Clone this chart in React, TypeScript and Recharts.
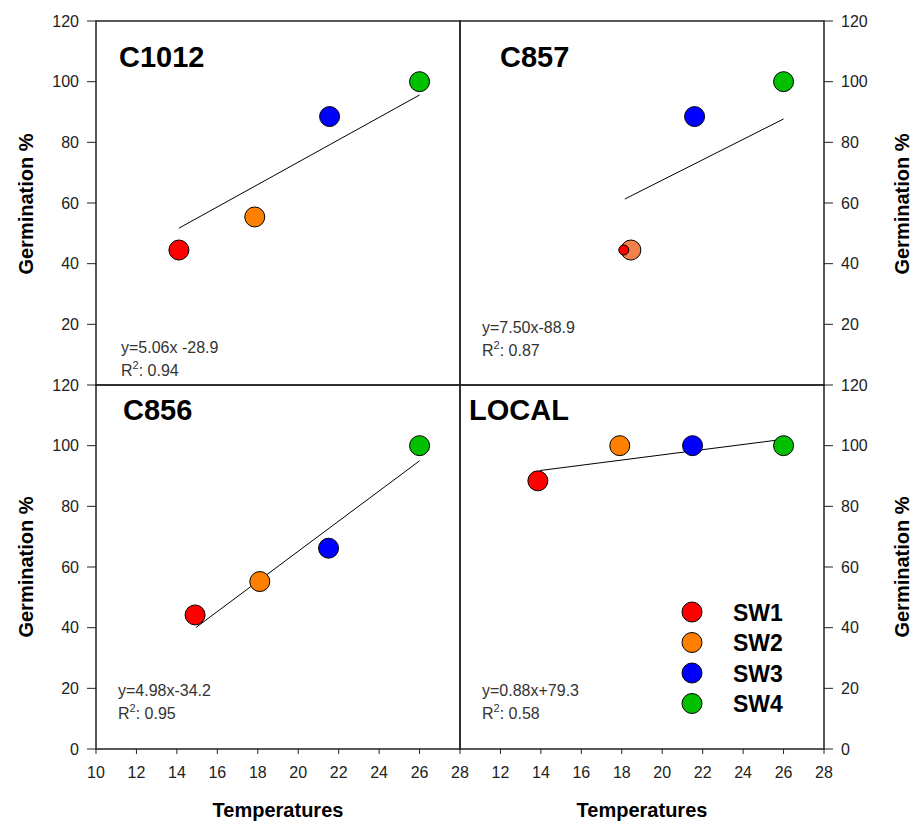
import { ScatterChart, Scatter, XAxis, YAxis, ReferenceArea, Legend } from "recharts"

const W = 913
const H = 821
const FONT = "'Liberation Sans', Arial, sans-serif"

const seriesNames = ["SW1", "SW2", "SW3", "SW4"]
const seriesColors = ["#FF0000", "#FF8000", "#0000FF", "#00C000"]

// C1012
const c1012Temp = [14.1, 17.85, 21.55, 26.0]
const c1012Germ = [44.5, 55.4, 88.5, 100]
const c1012TrendTemp = [14.1, 26.0]
const c1012TrendGerm = [51.7, 95.6]

// C857
const c857Temp = [18.1, 18.45, 21.6, 26.0]
const c857Germ = [44.5, 44.5, 88.5, 100]
const c857TrendTemp = [18.15, 26.0]
const c857TrendGerm = [61.3, 87.7]
const c857Colors = ["#FF0000", "#F4804A", "#0000FF", "#00C000"]

// C856
const c856Temp = [14.9, 18.1, 21.5, 26.0]
const c856Germ = [44.2, 55.2, 66.2, 100]
const c856TrendTemp = [14.95, 26.0]
const c856TrendGerm = [40.1, 95.0]

// LOCAL
const localTemp = [13.85, 17.9, 21.5, 26.0]
const localGerm = [88.4, 100, 100, 100]
const localTrendTemp = [13.95, 26.0]
const localTrendGerm = [91.8, 102.1]

const xTicks = [10, 12, 14, 16, 18, 20, 22, 24, 26, 28]
const xTicksRight = [12, 14, 16, 18, 20, 22, 24, 26, 28]
const yTicksTop = [20, 40, 60, 80, 100, 120]
const yTicksBottom = [0, 20, 40, 60, 80, 100, 120]

const panels = [
  {
    name: "C1012", side: "L", row: "T",
    temp: c1012Temp, germ: c1012Germ, trendTemp: c1012TrendTemp, trendGerm: c1012TrendGerm,
    colors: seriesColors, radii: [10, 10, 10, 10],
    eq: "y=5.06x -28.9", r2: "0.94",
    titleX: 119, titleY: 67, eqX: 121, eqY: 353
  },
  {
    name: "C857", side: "R", row: "T",
    temp: c857Temp, germ: c857Germ, trendTemp: c857TrendTemp, trendGerm: c857TrendGerm,
    colors: c857Colors, radii: [5, 10, 10, 10],
    eq: "y=7.50x-88.9", r2: "0.87",
    titleX: 500, titleY: 67, eqX: 482, eqY: 333
  },
  {
    name: "C856", side: "L", row: "B",
    temp: c856Temp, germ: c856Germ, trendTemp: c856TrendTemp, trendGerm: c856TrendGerm,
    colors: seriesColors, radii: [10, 10, 10, 10],
    eq: "y=4.98x-34.2", r2: "0.95",
    titleX: 123, titleY: 420, eqX: 118, eqY: 696
  },
  {
    name: "LOCAL", side: "R", row: "B",
    temp: localTemp, germ: localGerm, trendTemp: localTrendTemp, trendGerm: localTrendGerm,
    colors: seriesColors, radii: [10, 10, 10, 10],
    eq: "y=0.88x+79.3", r2: "0.58",
    titleX: 469, titleY: 420, eqX: 482, eqY: 696,
    legend: true
  }
]

function Notes({ p }: any) {
  return (
    <g fontFamily={FONT}>
      <text x={p.titleX} y={p.titleY} fontSize={29} fontWeight="bold" fill="#000">{p.name}</text>
      <text x={p.eqX} y={p.eqY} fontSize={16} fill="#333">{p.eq}</text>
      <text x={p.eqX} y={p.eqY + 23} fontSize={16} fill="#333">
        R<tspan dy={-7} fontSize={11}>2</tspan><tspan dy={7}>: {p.r2}</tspan>
      </text>
    </g>
  )
}

function GermLabel({ lx, ly }: any) {
  return (
    <text x={lx} y={ly} transform={`rotate(-90, ${lx}, ${ly})`} textAnchor="middle"
      fontFamily={FONT} fontSize={20} fontWeight="bold" fill="#000">
      Germination %
    </text>
  )
}

function TempLabel({ lx }: any) {
  return (
    <text x={lx} y={817} textAnchor="middle" fontFamily={FONT} fontSize={20} fontWeight="bold" fill="#000">
      Temperatures
    </text>
  )
}

function LegendBox() {
  return (
    <svg width={140} height={130}>
      {seriesNames.map((n, i) => (
        <g key={n}>
          <circle cx={22} cy={22 + i * 30.5} r={10} fill={seriesColors[i]} stroke="#000" strokeWidth={1} />
          <text x={63} y={30.5 + i * 30.5} fontFamily={FONT} fontSize={23} fontWeight="bold" fill="#000">{n}</text>
        </g>
      ))}
    </svg>
  )
}

function Panel({ p }: any) {
  const isLeft = p.side === "L"
  const isTop = p.row === "T"
  const yTicks = isTop ? yTicksTop : yTicksBottom
  const trend = p.trendTemp.map((t: number, i: number) => ({ x: t, y: p.trendGerm[i] }))
  const order = [3, 2, 1, 0]

  const tickStyle = { fill: "#222", fontSize: 16, fontFamily: FONT }

  return (
    <div style={{ position: "absolute", left: 0, top: 0 }}>
      <ScatterChart
        width={W}
        height={H}
        margin={{
          top: isTop ? 21 : 385,
          bottom: isTop ? H - 385 : H - 749 - 30,
          left: isLeft ? 0 : 460,
          right: isLeft ? W - 460 : 0
        }}
      >
        <XAxis
          type="number"
          dataKey="x"
          domain={[10, 28]}
          ticks={isLeft ? xTicks : xTicksRight}
          hide={isTop}
          height={30}
          tickSize={5}
          tickMargin={13}
          axisLine={false}
          stroke="#222"
          tick={tickStyle}
          allowDataOverflow
          label={<TempLabel lx={isLeft ? 278 : 642} />}
        />
        <YAxis
          yAxisId="m"
          type="number"
          dataKey="y"
          orientation={isLeft ? "left" : "right"}
          width={isLeft ? 96 : W - 824}
          domain={[0, 120]}
          ticks={yTicks}
          tickSize={9}
          tickMargin={8}
          axisLine={false}
          stroke="#222"
          tick={tickStyle}
          allowDataOverflow
          label={<GermLabel lx={isLeft ? 33 : 909} ly={isTop ? 204 : 567} />}
        />
        <YAxis
          yAxisId="i"
          type="number"
          orientation={isLeft ? "right" : "left"}
          mirror
          domain={[0, 120]}
          ticks={yTicks}
          tickSize={7}
          tick={false}
          axisLine={false}
          stroke="#222"
          allowDataOverflow
          label={<Notes p={p} />}
        />
        {!isLeft && (
          <YAxis
            yAxisId="i2"
            type="number"
            orientation="right"
            mirror
            domain={[0, 120]}
            ticks={yTicks}
            tickSize={5}
            tick={false}
            axisLine={false}
            stroke="#222"
            allowDataOverflow
          />
        )}
        <ReferenceArea
          yAxisId="m"
          x1={10}
          x2={28}
          y1={0}
          y2={120}
          fill="none"
          fillOpacity={0}
          stroke="#222"
          strokeWidth={1.5}
        />
        <Scatter
          yAxisId="m"
          data={trend}
          line={{ stroke: "#000", strokeWidth: 1 }}
          shape={() => <g />}
          legendType="none"
          isAnimationActive={false}
        />
        {order.map((i) => (
          <Scatter
            key={seriesNames[i]}
            yAxisId="m"
            name={seriesNames[i]}
            data={[{ x: p.temp[i], y: p.germ[i] }]}
            fill={p.colors[i]}
            shape={(s: any) => (
              <circle cx={s.cx} cy={s.cy} r={p.radii[i]} fill={p.colors[i]} stroke="#000" strokeWidth={1} />
            )}
            isAnimationActive={false}
          />
        ))}
        {p.legend && (
          <Legend
            layout="vertical"
            align="center"
            verticalAlign="middle"
            wrapperStyle={{ left: 670, top: 590, width: 140, height: 130 }}
            content={() => <LegendBox />}
          />
        )}
      </ScatterChart>
    </div>
  )
}

export default function App() {
  return (
    <div style={{ position: "absolute", left: 0, top: 0, width: W, height: H, background: "#fff", fontFamily: FONT }}>
      {panels.map((p) => (
        <Panel key={p.name} p={p} />
      ))}
    </div>
  )
}
